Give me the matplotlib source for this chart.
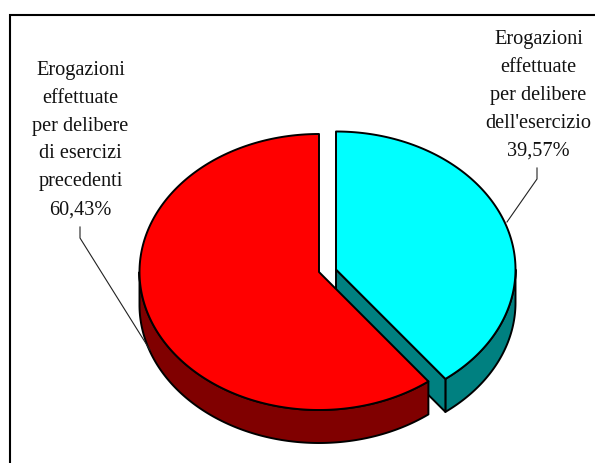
import numpy as np
import matplotlib
matplotlib.use("Agg")
import matplotlib.pyplot as plt
from matplotlib.patches import Polygon

categories = ["Erogazioni\neffettuate\nper delibere\ndell'esercizio",
              "Erogazioni\neffettuate\nper delibere\ndi esercizi\nprecedenti"]
values = [39.57, 60.43]
value_labels = ["39,57%", "60,43%"]
top_colors = ["#00FFFF", "#FF0000"]
side_colors = ["#008080", "#800000"]

plt.rcParams['font.family'] = ['Liberation Serif', 'DejaVu Serif']
fig = plt.figure(figsize=(5.95, 4.63), dpi=100)
ax = fig.add_axes([0, 0, 1, 1])
ax.set_xlim(0, 595)
ax.set_ylim(463, 0)
ax.axis('off')

RX, RY, DEPTH = 179.5, 138.0, 33.0
CENTERS = [(336.0, 269.5), (319.0, 272.0)]
LW = 1.4


def rim(center, a0, a1, n=200):
    """Points on the top ellipse; angle is clockwise from 12 o'clock in degrees."""
    t = np.radians(np.linspace(a0, a1, n))
    return np.column_stack([center[0] + RX * np.sin(t), center[1] - RY * np.cos(t)])


def poly(pts, color, z):
    ax.add_patch(Polygon(pts, closed=True, facecolor=color, edgecolor='black',
                         linewidth=LW, joinstyle='round', zorder=z))


# frame: only the top and left sides show inside the picture
ax.plot([10, 10, 595], [463, 15, 15], color='black', lw=1.5,
        solid_joinstyle='miter', zorder=0)

fractions = np.cumsum([0] + values) / sum(values) * 360
down = np.array([0, DEPTH])

# cyan slice
c = CENTERS[0]
a0, a1 = fractions[0], fractions[1]
edge = rim(c, 90, a1)
poly(np.vstack([edge, (edge + down)[::-1]]), side_colors[0], 1)
corner = rim(c, a1, a1, 1)[0]
poly([c, corner, corner + down, np.array(c) + down], side_colors[0], 1)
poly(np.vstack([[c], rim(c, a0, a1)]), top_colors[0], 2)

# red slice
c = CENTERS[1]
a0, a1 = fractions[1], fractions[2]
edge = rim(c, a0, 270)
poly(np.vstack([edge, (edge + down)[::-1]]), side_colors[1], 3)
poly(np.vstack([[c], rim(c, a0, a1)]), top_colors[1], 4)

# labels
label_xy = [(538.5, 95.5), (80.5, 140)]
for cat, vl, (x, y) in zip(categories, value_labels, label_xy):
    ax.text(x, y, cat + "\n" + vl, ha='center', va='center', fontsize=14.6,
            linespacing=1.635, color='#111111', zorder=6)

# leader lines
ax.plot([537, 537, 507], [168, 179, 222], color='#222222', lw=0.8, zorder=6)
ax.plot([80, 80, 150], [227, 238, 350], color='#222222', lw=0.8, zorder=5)

fig.savefig("out.png", dpi=100)
